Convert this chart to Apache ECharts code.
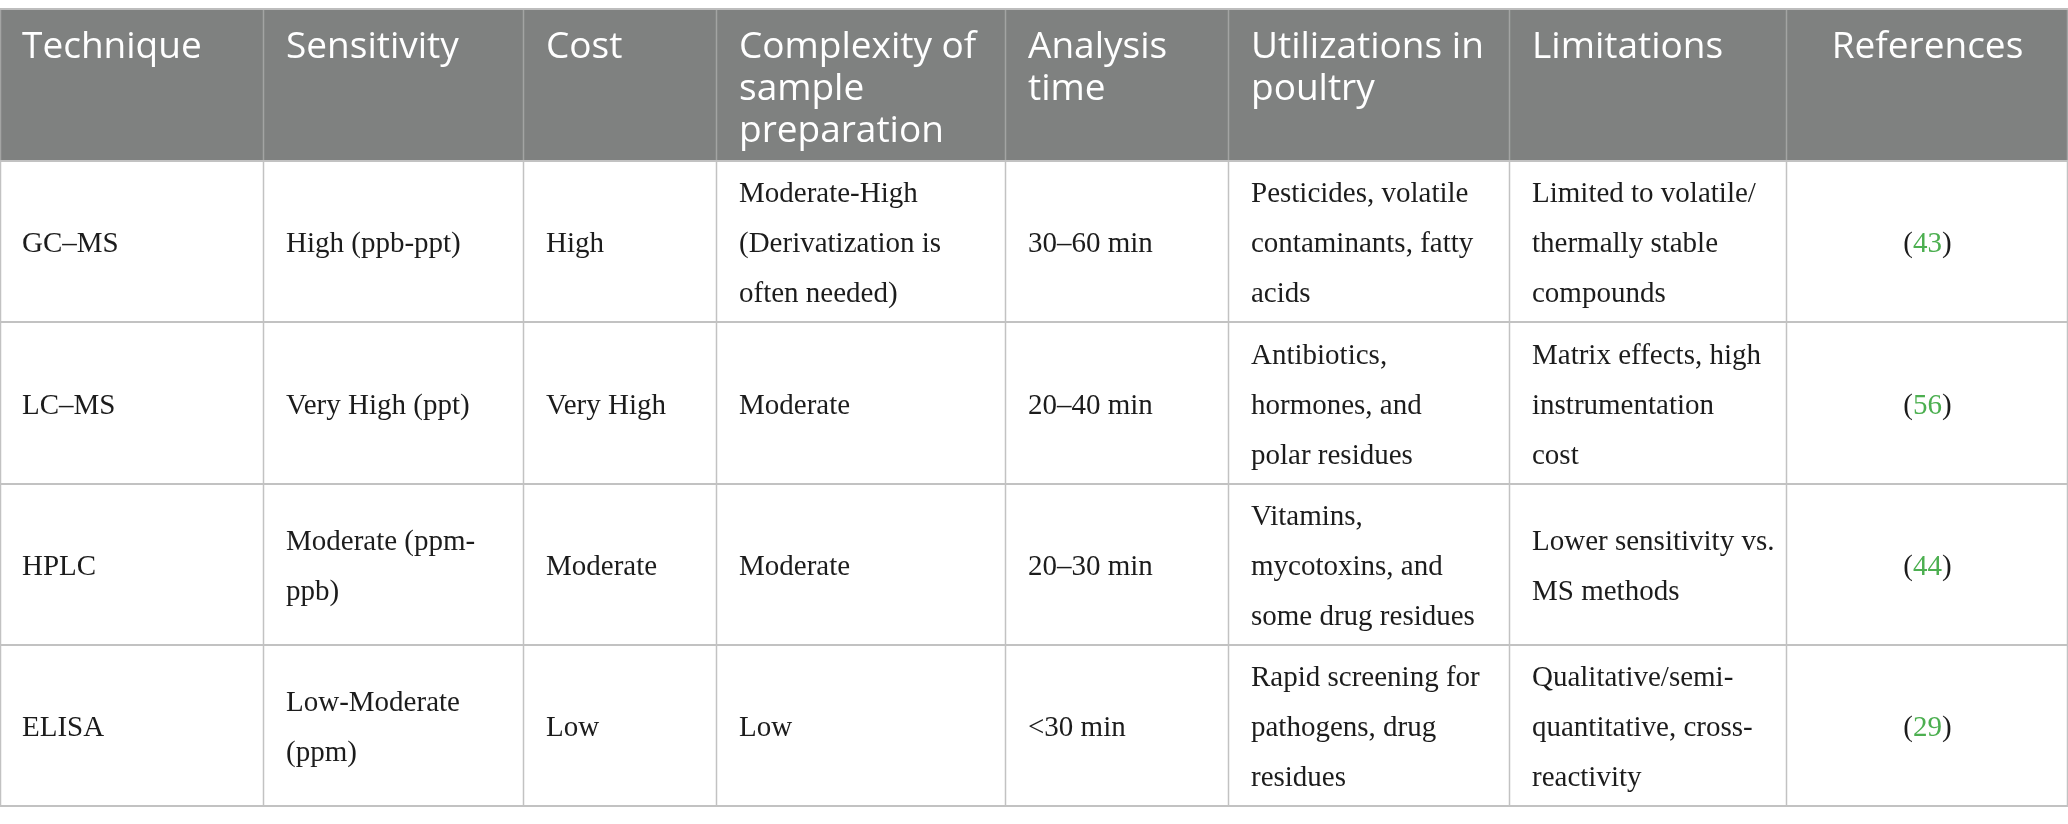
<!DOCTYPE html>
<html>
<head>
<meta charset="utf-8">
<script src="https://cdn.jsdelivr.net/npm/echarts@6/dist/echarts.min.js"></script>
<style>
html, body { margin: 0; padding: 0; background: #fff; }
#main { width: 2068px; height: 824px; }
</style>
</head>
<body>
<div id="main"></div>
<script>
// table content
var headers = ['Technique', 'Sensitivity', 'Cost', 'Complexity of\nsample\npreparation', 'Analysis\ntime', 'Utilizations in\npoultry', 'Limitations', 'References'];
var techniques = ['GC–MS', 'LC–MS', 'HPLC', 'ELISA'];
var sensitivity = ['High (ppb-ppt)', 'Very High (ppt)', 'Moderate (ppm-\nppb)', 'Low-Moderate\n(ppm)'];
var cost = ['High', 'Very High', 'Moderate', 'Low'];
var complexity = ['Moderate-High\n(Derivatization is\noften needed)', 'Moderate', 'Moderate', 'Low'];
var analysisTime = ['30–60 min', '20–40 min', '20–30 min', '<30 min'];
var utilizations = ['Pesticides, volatile\ncontaminants, fatty\nacids', 'Antibiotics,\nhormones, and\npolar residues', 'Vitamins,\nmycotoxins, and\nsome drug residues', 'Rapid screening for\npathogens, drug\nresidues'];
var limitations = ['Limited to volatile/\nthermally stable\ncompounds', 'Matrix effects, high\ninstrumentation\ncost', 'Lower sensitivity vs.\nMS methods', 'Qualitative/semi-\nquantitative, cross-\nreactivity'];
var references = ['43', '56', '44', '29'];

var columns = [techniques, sensitivity, cost, complexity, analysisTime, utilizations, limitations, references];

// layout (px units on the hidden axes)
var colWidths = [264, 260, 193, 289, 223, 281, 277, 281];
var rowHeights = [152, 161, 162, 161, 161];

var colEdges = [0], rowEdges = [0];
colWidths.forEach(function (w, i) { colEdges.push(colEdges[i] + w); });
rowHeights.forEach(function (h, i) { rowEdges.push(rowEdges[i] + h); });
var totalW = colEdges[colEdges.length - 1];
var totalH = rowEdges[rowEdges.length - 1];

var cells = [];
for (var r = 0; r < rowHeights.length; r++) {
  for (var c = 0; c < colWidths.length; c++) {
    cells.push([c, r]);
  }
}

var headBg = '#7f8180';
var lineCol = '#c2c2c2';
var headLine = '#a3a4a3';
var serif = '"Liberation Serif", "DejaVu Serif", serif';
var sans = '"Open Sans", "Noto Sans", sans-serif';

function renderCell(params, api) {
  var c = api.value(0), r = api.value(1);
  var p0 = api.coord([colEdges[c], rowEdges[r]]);
  var p1 = api.coord([colEdges[c + 1], rowEdges[r + 1]]);
  var x0 = p0[0], y0 = p0[1], x1 = p1[0], y1 = p1[1];
  var isHead = r === 0;
  var isRef = c === colWidths.length - 1;
  var kids = [];

  kids.push({
    type: 'rect', z2: 0,
    shape: { x: x0, y: y0, width: x1 - x0, height: y1 - y0 },
    style: { fill: isHead ? headBg : '#fff' }
  });
  // right edge
  kids.push({
    type: 'line', z2: 10,
    shape: { x1: x1 - 0.5, y1: y0, x2: x1 - 0.5, y2: y1 },
    style: { stroke: isHead ? headLine : lineCol, lineWidth: 1.5 }
  });
  // bottom edge
  kids.push({
    type: 'line', z2: 11,
    shape: { x1: x0, y1: y1, x2: x1, y2: y1 },
    style: { stroke: lineCol, lineWidth: 2 }
  });
  if (c === 0) {
    kids.push({
      type: 'line', z2: 10,
      shape: { x1: x0 + 0.5, y1: y0, x2: x0 + 0.5, y2: y1 },
      style: { stroke: isHead ? headLine : lineCol, lineWidth: 1.5 }
    });
  }
  if (isHead) {
    kids.push({
      type: 'line', z2: 11,
      shape: { x1: x0, y1: y0, x2: x1, y2: y0 },
      style: { stroke: '#bdbdbd', lineWidth: 2 }
    });
    kids.push({
      type: 'text', z2: 20,
      style: {
        text: headers[c],
        x: isRef ? (x0 + x1) / 2 : x0 + 22,
        y: y0 + 17,
        fill: '#ffffff',
        fontFamily: sans,
        fontSize: 37,
        lineHeight: 42,
        align: isRef ? 'center' : 'left',
        verticalAlign: 'top'
      }
    });
  } else if (isRef) {
    kids.push({
      type: 'text', z2: 20,
      style: {
        text: '{p|(}{g|' + references[r - 1] + '}{p|)}',
        x: (x0 + x1) / 2,
        y: (y0 + y1) / 2 + 3,
        align: 'center',
        verticalAlign: 'middle',
        rich: {
          p: { fill: '#1c1c1c', fontFamily: serif, fontSize: 29, lineHeight: 50 },
          g: { fill: '#4caf50', fontFamily: serif, fontSize: 29, lineHeight: 50 }
        }
      }
    });
  } else {
    kids.push({
      type: 'text', z2: 20,
      style: {
        text: columns[c][r - 1],
        x: x0 + 22,
        y: (y0 + y1) / 2 + 3,
        fill: '#1c1c1c',
        fontFamily: serif,
        fontSize: 29,
        lineHeight: 50,
        align: 'left',
        verticalAlign: 'middle'
      }
    });
  }
  return { type: 'group', children: kids };
}

var chart = echarts.init(document.getElementById('main'));
var option = {
  animation: false,
  backgroundColor: '#ffffff',
  grid: { left: 0, right: 0, top: 9, bottom: 18 },
  xAxis: { type: 'value', min: 0, max: totalW, show: false },
  yAxis: { type: 'value', min: 0, max: totalH, inverse: true, show: false },
  series: [{
    type: 'custom',
    clip: false,
    silent: true,
    renderItem: renderCell,
    data: cells
  }]
};
chart.setOption(option);
</script>
</body>
</html>
